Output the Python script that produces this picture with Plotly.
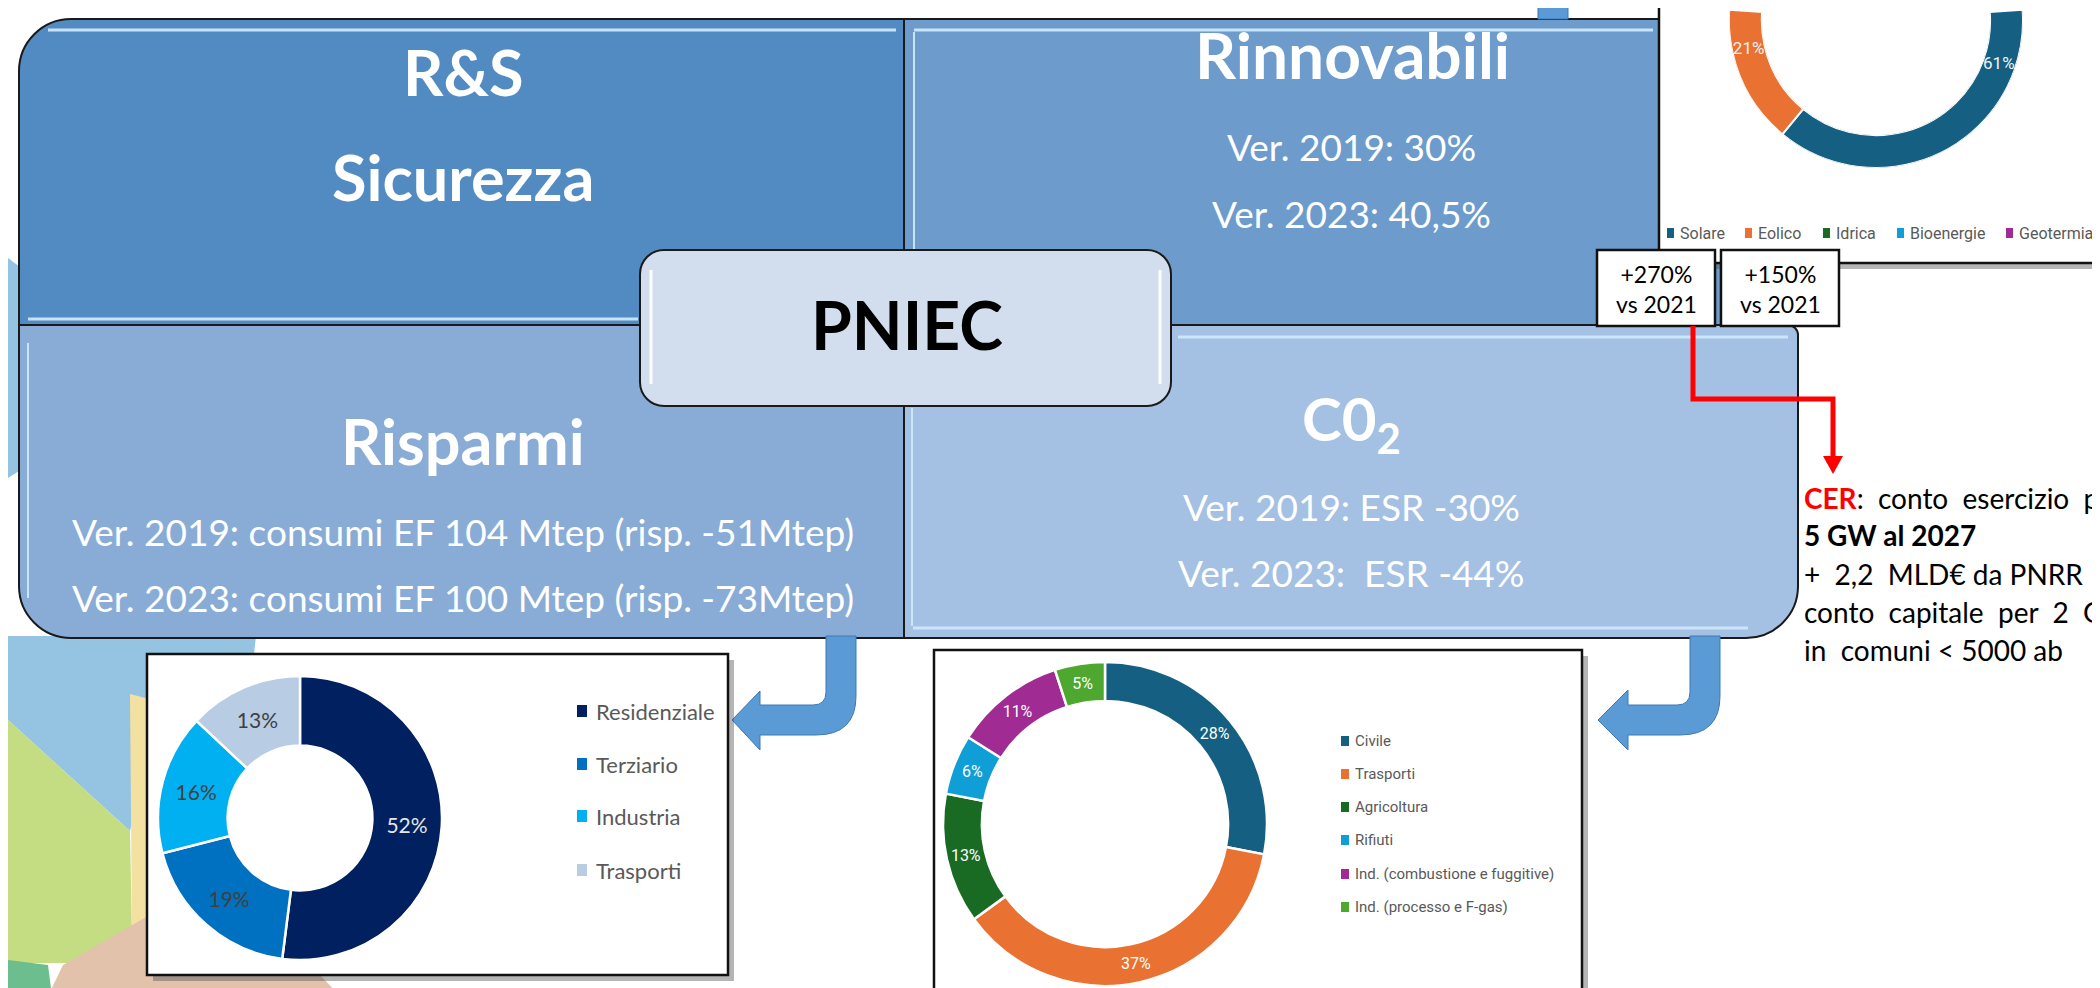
import numpy as np
import plotly.graph_objects as go

W, H = 2100, 988

# ---------------- data ----------------
cons_labels = ["Residenziale", "Terziario", "Industria", "Trasporti"]
cons_values = [52, 19, 16, 13]
cons_colors = ["#002060", "#0070C0", "#00B0F0", "#B8CCE4"]
cons_text_colors = ["#E6E6E6", "#404040", "#404040", "#404040"]

co2_labels = ["Civile", "Trasporti", "Agricoltura", "Rifiuti",
              "Ind. (combustione e fuggitive)", "Ind. (processo e F-gas)"]
co2_values = [28, 37, 13, 6, 11, 5]
co2_colors = ["#156082", "#E97132", "#196B24", "#0F9ED5", "#A02B93", "#4EA72E"]

ren_labels = ["Solare", "Eolico", "Idrica", "Bioenergie", "Geotermia"]
ren_values = [61, 21, 15, 2, 1]
ren_colors = ["#156082", "#E97132", "#196B24", "#0F9ED5", "#A02B93"]
ren_labelled = 2          # only the first two slices are in view in the cropped chart

growth_labels = ["+270%", "+150%"]
growth_ref = "vs 2021"

quad_titles = ["R&amp;S", "Sicurezza", "Rinnovabili", "Risparmi", "C0<sub>2</sub>"]
ren_lines = ["Ver. 2019: 30%", "Ver. 2023: 40,5%"]
ris_lines = ["Ver. 2019: consumi EF 104 Mtep (risp. -51Mtep)",
             "Ver. 2023: consumi EF 100 Mtep (risp. -73Mtep)"]
co2_lines = ["Ver. 2019: ESR -30%", "Ver. 2023:\u00a0 ESR -44%"]
NB = "\u00a0"
cer_lines = [
    f"<span style='color:#FF0000'><b>CER</b></span>:{NB}{NB}conto{NB}{NB}esercizio{NB}{NB}per",
    "<b>5 GW al 2027</b>",
    f"+{NB}{NB}2,2{NB}{NB}MLD€{NB}da{NB}PNRR{NB}{NB}in",
    f"conto{NB}{NB}capitale{NB}{NB}per{NB}{NB}2{NB}{NB}GW",
    f"in{NB}{NB}comuni < 5000 ab",
]

# ---------------- helpers (pixel -> paper) ----------------
def P(x, y):
    return f"{x / W:.5f},{1 - y / H:.5f}"

def X(x):
    return x / W

def Y(y):
    return 1 - y / H

K = 0.5523

def rrect(x0, y0, x1, y1, tl=0, tr=0, br=0, bl=0):
    s = f"M{P(x0 + tl, y0)} L{P(x1 - tr, y0)} "
    if tr:
        s += f"C{P(x1 - tr + K * tr, y0)} {P(x1, y0 + tr - K * tr)} {P(x1, y0 + tr)} "
    s += f"L{P(x1, y1 - br)} "
    if br:
        s += f"C{P(x1, y1 - br + K * br)} {P(x1 - br + K * br, y1)} {P(x1 - br, y1)} "
    s += f"L{P(x0 + bl, y1)} "
    if bl:
        s += f"C{P(x0 + bl - K * bl, y1)} {P(x0, y1 - bl + K * bl)} {P(x0, y1 - bl)} "
    s += f"L{P(x0, y0 + tl)} "
    if tl:
        s += f"C{P(x0, y0 + tl - K * tl)} {P(x0 + tl - K * tl, y0)} {P(x0 + tl, y0)} "
    return s + "Z"

def poly(pts):
    return "M" + " L".join(P(x, y) for x, y in pts) + " Z"

shapes = []

def add_path(p, fill, line_color=None, line_width=0):
    shapes.append(dict(type="path", path=p, xref="paper", yref="paper", layer="below",
                       fillcolor=fill,
                       line=dict(color=line_color or "rgba(0,0,0,0)", width=line_width)))

def add_line(x0, y0, x1, y1, color, width):
    shapes.append(dict(type="line", xref="paper", yref="paper", layer="below",
                       x0=X(x0), y0=Y(y0), x1=X(x1), y1=Y(y1),
                       line=dict(color=color, width=width)))

# ---------------- background decoration ----------------
add_path(poly([(0, 250), (16, 262), (16, 460), (0, 470)]), "#95C3E2")
add_path(poly([(0, 628), (248, 628), (240, 700), (150, 700), (122, 823), (0, 712)]), "#95C3E2")
add_path(poly([(0, 712), (122, 823), (124, 930), (60, 955), (0, 955)]), "#C4DC82")
add_path(poly([(122, 686), (145, 692), (145, 920), (124, 930)]), "#F3E1A1")
add_path(poly([(40, 988), (55, 957), (145, 905), (300, 925), (312, 967), (332, 988)]), "#E3C2AC")
add_path(poly([(0, 952), (40, 957), (44, 988), (0, 988)]), "#6DBE8E")

# ---------------- quadrant boxes ----------------
add_path(rrect(11, 11, 896, 317, tl=52), "#528BC2", "#1a1a1a", 2)
add_path(rrect(896, 11, 1790, 317, tr=10), "#6C9BCC", "#1a1a1a", 2)
add_path(rrect(11, 317, 896, 630, bl=52), "#88ACD6", "#1a1a1a", 2)
add_path(rrect(896, 317, 1790, 630, tr=10, br=52), "#A4C0E3", "#1a1a1a", 2)

HL = "rgba(205,232,252,0.95)"
add_line(40, 22, 888, 22, HL, 3)
add_line(20, 311, 630, 311, HL, 3)
add_line(906, 22, 1645, 22, HL, 3)
add_line(906, 24, 906, 312, HL, 2)
add_line(20, 335, 20, 590, HL, 2)
add_line(1170, 329, 1780, 329, HL, 3)
add_line(905, 620, 1740, 620, HL, 3)
add_line(904, 400, 904, 618, HL, 2)

# ---------------- blue curved arrows ----------------
ARROW_FILL = "#5B9BD5"
ARROW_LINE = "#3F78B5"
a1 = (f"M{P(818, 628)} L{P(848, 628)} L{P(848, 688)} Q{P(848, 727)} {P(808, 727)} "
      f"L{P(752, 727)} L{P(752, 742)} L{P(724, 712)} L{P(752, 683)} L{P(752, 697)} "
      f"L{P(805, 697)} Q{P(818, 697)} {P(818, 684)} Z")
a2 = (f"M{P(1682, 628)} L{P(1712, 628)} L{P(1712, 688)} Q{P(1712, 727)} {P(1672, 727)} "
      f"L{P(1620, 727)} L{P(1620, 742)} L{P(1590, 712)} L{P(1620, 682)} L{P(1620, 697)} "
      f"L{P(1669, 697)} Q{P(1682, 697)} {P(1682, 684)} Z")
add_path(a1, ARROW_FILL, ARROW_LINE, 1)
add_path(a2, ARROW_FILL, ARROW_LINE, 1)
add_path(rrect(1530, -2, 1560, 11), ARROW_FILL, ARROW_LINE, 1)

# ---------------- PNIEC box ----------------
add_path(rrect(632, 242, 1163, 398, tl=24, tr=24, br=24, bl=24), "#D2DEEE", "#1a1a1a", 2)
add_line(643, 262, 643, 376, "rgba(255,255,255,0.9)", 3)
add_line(1152, 262, 1152, 376, "rgba(255,255,255,0.9)", 3)

# ---------------- chart boxes ----------------
SH = "rgba(90,90,90,0.45)"
for (x0, y0, x1, y1) in [(139, 646, 720, 967), (926, 642, 1574, 983), (1651, -10, 2099, 255)]:
    add_path(rrect(x0 + 6, y0 + 6, x1 + 6, y1 + 6), SH)
    add_path(rrect(x0, y0, x1, y1), "#FFFFFF", "#111111", 2.5)

# growth boxes
for (x0, x1) in [(1589, 1707), (1713, 1831)]:
    add_path(rrect(x0, 242, x1, 318), "#FFFFFF", "#111111", 2.5)

# red arrow
shapes.append(dict(type="path", xref="paper", yref="paper", layer="below",
                   path=f"M{P(1685, 318)} L{P(1685, 391)} L{P(1825, 391)} L{P(1825, 452)}",
                   line=dict(color="#FF0000", width=5)))
add_path(poly([(1815, 448), (1835, 448), (1825, 466)]), "#FF0000")

# ---------------- legends (markers) ----------------
cons_leg_y = [703, 756, 808, 862]
co2_leg_y = [733, 766, 799, 832, 866, 899]
ren_leg_x = [1659, 1737, 1815, 1889, 1998]
for c, yy in zip(cons_colors, cons_leg_y):
    add_path(rrect(569, yy - 6, 579, yy + 6), c)
for c, yy in zip(co2_colors, co2_leg_y):
    add_path(rrect(1333, yy - 5, 1341, yy + 5), c)
for c, xx in zip(ren_colors, ren_leg_x):
    add_path(rrect(xx, 220, xx + 7, 230), c)

# ---------------- annotations ----------------
ann = []

def txt(x, y, text, size, color="white", family="Lato", xanchor="center"):
    ann.append(dict(x=X(x), y=Y(y), xref="paper", yref="paper", text=text, showarrow=False,
                    xanchor=xanchor, yanchor="middle",
                    font=dict(family=family, size=size, color=color)))

txt(455, 63, f"<b>{quad_titles[0]}</b>", 63)
txt(455, 168, f"<b>{quad_titles[1]}</b>", 63)
txt(1344, 47, f"<b>{quad_titles[2]}</b>", 64)
txt(1343, 139, ren_lines[0], 37)
txt(1343, 205, ren_lines[1], 37)
txt(455, 432, f"<b>{quad_titles[3]}</b>", 63)
txt(455, 523, ris_lines[0], 37)
txt(455, 589, ris_lines[1], 37)
txt(1343, 414, f"<b>{quad_titles[4]}</b>", 60)
txt(1343, 498, co2_lines[0], 37)
txt(1343, 564, co2_lines[1], 37)
txt(899, 316, "<b>PNIEC</b>", 66, color="black")

for lab, cx in zip(growth_labels, [1648, 1772]):
    txt(cx, 281, f"{lab}<br>{growth_ref}", 23, color="black")

for line, yy in zip(cer_lines, [490, 527, 566, 604, 642]):
    txt(1794, yy, line, 28, color="black", xanchor="left")

for lab, yy in zip(cons_labels, cons_leg_y):
    txt(586, yy, lab, 22, color="#595959", xanchor="left")
for lab, yy in zip(co2_labels, co2_leg_y):
    txt(1345, yy, lab, 15, color="#595959", family="Roboto", xanchor="left")
for lab, xx in zip(ren_labels, ren_leg_x):
    txt(xx + 11, 225, lab, 16, color="#595959", family="Roboto", xanchor="left")

# ---------------- traces ----------------
def dom(cx, cy, r):
    return dict(x=[(cx - r) / W, (cx + r) / W], y=[1 - (cy + r) / H, 1 - (cy - r) / H])

fig = go.Figure()
fig.add_trace(go.Pie(
    labels=cons_labels, values=cons_values, sort=False, direction="clockwise", rotation=0,
    hole=0.51, domain=dom(292, 810, 142),
    marker=dict(colors=cons_colors, line=dict(color="white", width=2.5)),
    text=[f"{v}%" for v in cons_values], textinfo="text", textposition="inside",
    insidetextorientation="horizontal",
    textfont=dict(family="Lato", size=21, color=cons_text_colors),
    showlegend=False, hoverinfo="label+value"))

fig.add_trace(go.Pie(
    labels=co2_labels, values=co2_values, sort=False, direction="clockwise", rotation=0,
    hole=0.76, domain=dom(1097, 816, 162),
    marker=dict(colors=co2_colors, line=dict(color="white", width=2.5)),
    text=[f"{v}%" for v in co2_values], textinfo="text", textposition="inside",
    insidetextorientation="horizontal",
    textfont=dict(family="Roboto", size=16, color="white"),
    showlegend=False, hoverinfo="label+value"))

ren_arr = np.array(ren_values, dtype=float)
ren_width = ren_arr * 3.6
ren_mid = (np.cumsum(ren_arr) - ren_arr / 2) * 3.6
fig.add_trace(go.Barpolar(
    r=[1] * len(ren_values), theta=ren_mid, width=ren_width, base=0,
    marker=dict(color=ren_colors, line=dict(color="white", width=2)),
    text=ren_labels, hoverinfo="text", showlegend=False))
fig.add_trace(go.Scatterpolar(
    r=[0.5] * ren_labelled, theta=ren_mid[:ren_labelled], mode="text",
    text=[f"{v}%" for v in ren_values[:ren_labelled]],
    textfont=dict(family="Roboto", size=17, color="#F2F2F2"),
    hoverinfo="skip", showlegend=False))

cxr, cyr, rr = 1868, 13, 147
fig.update_layout(
    width=W, height=H, margin=dict(l=0, r=0, t=0, b=0),
    paper_bgcolor="white", plot_bgcolor="white",
    shapes=shapes, annotations=ann,
    polar=dict(
        domain=dict(x=[(cxr - rr) / W, (cxr + rr) / W],
                    y=[1 - (cyr + rr) / H, 1 - (cyr - rr * np.sin(np.radians(4))) / H]),
        sector=[176, 364], hole=0.776, bgcolor="rgba(0,0,0,0)",
        angularaxis=dict(visible=False, rotation=90, direction="clockwise"),
        radialaxis=dict(visible=False, range=[0, 1]),
    ),
)

fig.write_html("out.html")
